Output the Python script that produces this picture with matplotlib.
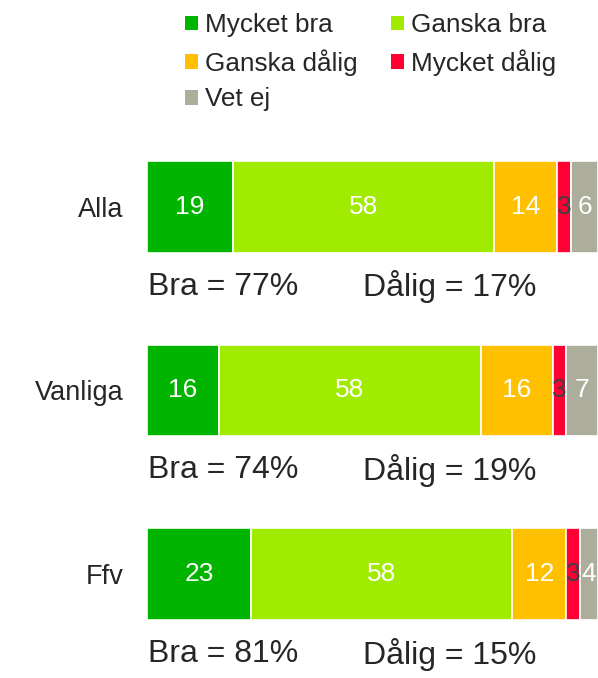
import matplotlib
matplotlib.use("Agg")
import matplotlib.pyplot as plt
from matplotlib.patches import Patch
import numpy as np

plt.rcParams['font.family'] = ['Liberation Sans', 'DejaVu Sans']

categories = ["Alla", "Vanliga", "Ffv"]
series_names = ["Mycket bra", "Ganska bra", "Ganska dålig", "Mycket dålig", "Vet ej"]
mycket_bra = [19, 16, 23]
ganska_bra = [58, 58, 58]
ganska_dalig = [14, 16, 12]
mycket_dalig = [3, 3, 3]
vet_ej = [6, 7, 4]
series = [mycket_bra, ganska_bra, ganska_dalig, mycket_dalig, vet_ej]
colors = ["#00B400", "#A0EB00", "#FFC000", "#FF0033", "#ADAD9B"]
label_colors = ["white", "white", "white", "#404040", "white"]

W, H = 598, 678
fig = plt.figure(figsize=(W / 100, H / 100), dpi=100)
# axes from x=147..598 px, y=130..678 px
ax = fig.add_axes([147 / W, 0, 451 / W, (678 - 130) / H])
ypos = np.arange(len(categories))
left = np.zeros(len(categories))
for vals, col, lc in zip(series, colors, label_colors):
    v = np.array(vals, dtype=float)
    bars = ax.barh(ypos, v, left=left, height=0.5, color=col, edgecolor="white", linewidth=1.2)
    for b, val in zip(bars, v):
        ax.text(b.get_x() + b.get_width() / 2, b.get_y() + b.get_height() / 2, f"{int(val)}",
                ha="center", va="center", color=lc, fontsize=19)
    left += v

bra = np.array(mycket_bra) + np.array(ganska_bra)
dalig = np.array(ganska_dalig) + np.array(mycket_dalig)
for y, b, d in zip(ypos, bra, dalig):
    ax.text(0.2, y + 0.435, f"Bra = {b}%", ha="left", va="center", fontsize=23, color="#262626")
    ax.text(47.8, y + 0.435, f"Dålig = {d}%", ha="left", va="center", fontsize=23, color="#262626")

ax.set_xlim(0, 100)
ax.set_ylim(2.565, -0.418)
ax.set_yticks(ypos)
ax.set_yticklabels(categories, fontsize=19.5, color="#262626")
ax.tick_params(axis="y", length=0, pad=17)
ax.set_xticks([])
for s in ax.spines.values():
    s.set_visible(False)

order = [0, 2, 4, 1, 3]
handles = [Patch(facecolor=colors[i], edgecolor="none") for i in order]
labels = [series_names[i] for i in order]
fig.legend(handles, labels, ncol=2, loc="upper left", bbox_to_anchor=(180 / W, 1 - 8 / H),
           frameon=False, fontsize=18.8, handlelength=0.5, handleheight=0.5, handletextpad=0.25,
           columnspacing=1.3, labelspacing=0.45, labelcolor="#262626", borderaxespad=0, borderpad=0.2)

fig.savefig("out.png", dpi=100)
